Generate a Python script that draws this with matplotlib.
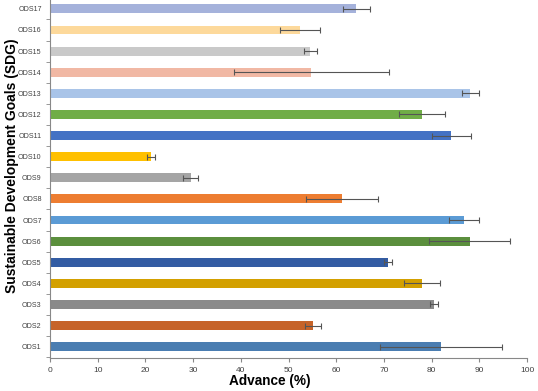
import numpy as np
import matplotlib.pyplot as plt

plt.rcParams['font.family'] = ['Liberation Sans', 'DejaVu Sans']

# SDG progress, ODS1 .. ODS17
goals = ['ODS%d' % i for i in range(1, 18)]
advance = [82.0, 55.2, 80.5, 78.0, 70.9, 88.0, 86.8, 61.2, 29.5,
           21.1, 84.1, 78.0, 88.1, 54.8, 54.6, 52.5, 64.2]
err = [12.8, 1.7, 0.8, 3.85, 0.9, 8.5, 3.2, 7.6, 1.6,
       0.85, 4.1, 4.85, 1.8, 16.3, 1.3, 4.2, 2.8]
colors = ['#4a7db1', '#c66329', '#8a8a8a', '#d3a000', '#335ca3', '#5b8f3d',
          '#5b9bd5', '#ed7d31', '#a5a5a5', '#ffc000', '#4472c4', '#70ad47',
          '#a9c4e8', '#f1b8a4', '#c9c9c9', '#fdd99b', '#a5b2db']

fig = plt.figure(figsize=(5.38, 3.91), dpi=100)
ax = fig.add_axes([50/538, 1 - 358.3/391, 477/538, 360/391])

y = np.arange(len(goals))
ax.barh(y, advance, height=0.42, color=colors, zorder=2)
ax.errorbar(advance, y, xerr=err, fmt='none', ecolor='#555555',
            elinewidth=0.8, capsize=2, capthick=0.8, zorder=3)

ax.set_xlim(0, 100)
ax.set_ylim(-0.55, 16.5)
ax.set_xticks(np.arange(0, 101, 10))
ax.set_yticks(y)
ax.set_yticklabels(goals)
ax.set_yticks(np.arange(-0.5, 16.6, 1), minor=True)
ax.tick_params(axis='y', which='major', length=0, labelsize=5.1,
               labelcolor='#404040', pad=6)
ax.tick_params(axis='y', which='minor', length=3, color='#888888')
ax.tick_params(axis='x', length=3, color='#888888', labelsize=6,
               labelcolor='#404040', pad=3)

for s in ['top', 'right']:
    ax.spines[s].set_visible(False)
for s in ['left', 'bottom']:
    ax.spines[s].set_color('#888888')
    ax.spines[s].set_linewidth(0.8)

# axis titles placed like the original (not centred on the axes)
fig.text(270/538, 1 - 381/391, 'Advance (%)', fontsize=9.8,
         fontweight='bold', ha='center', va='center')
fig.text(12/538, 1 - 166/391, 'Sustainable Development Goals (SDG)',
         fontsize=10, fontweight='bold', rotation=90, ha='center', va='center')

fig.savefig('out.png', dpi=100)
